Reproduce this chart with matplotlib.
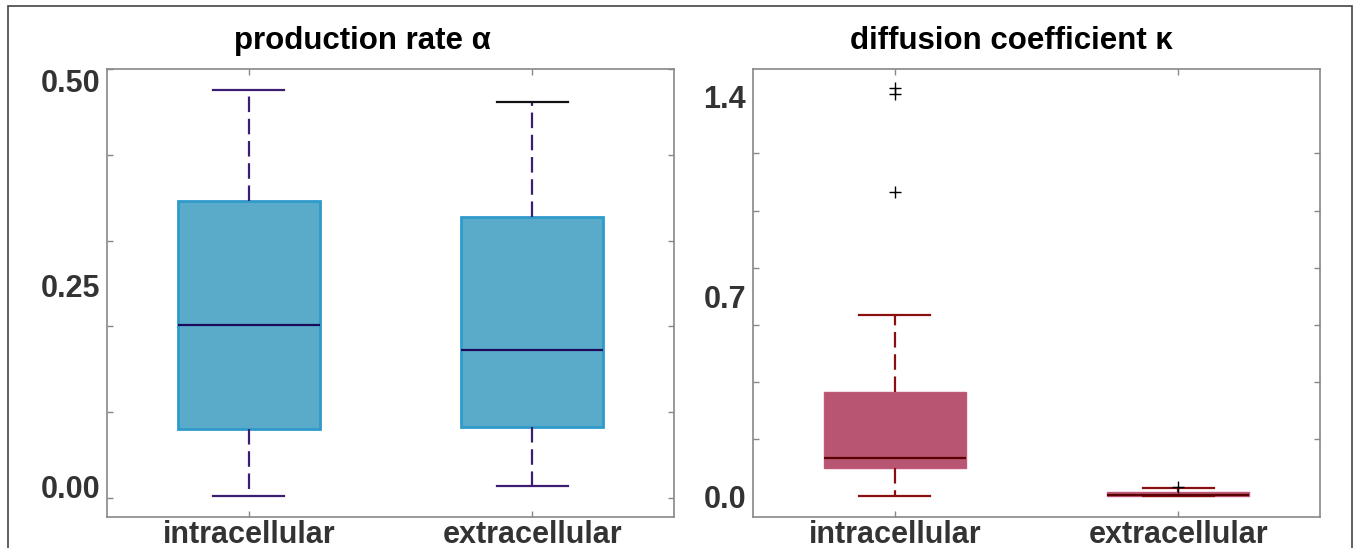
import matplotlib
matplotlib.use("Agg")
import matplotlib.pyplot as plt
from matplotlib.patches import Rectangle
import numpy as np

# box statistics
groups = ["intracellular", "extracellular"]

# production rate alpha
alpha_whislo = [0.002, 0.0135]
alpha_q1 = [0.080, 0.083]
alpha_med = [0.2016, 0.173]
alpha_q3 = [0.346, 0.328]
alpha_whishi = [0.476, 0.461]
alpha_fliers = [[], []]

# diffusion coefficient kappa
kappa_whislo = [0.0, 0.0]
kappa_q1 = [0.098, 0.001]
kappa_med = [0.135, 0.006]
kappa_q3 = [0.367, 0.015]
kappa_whishi = [0.633, 0.030]
kappa_fliers = [[1.427, 1.408, 1.064], [0.032]]

alpha_ticks = [0.0132, 0.248, 0.487]
alpha_ticklabels = ["0.00", "0.25", "0.50"]
kappa_ticks = [0.0, 0.7, 1.4]
kappa_ticklabels = ["0.0", "0.7", "1.4"]

FONT = ["Liberation Sans", "DejaVu Sans"]
plt.rcParams["font.family"] = FONT


def make_stats(lo, q1, med, q3, hi, fl):
    stats = []
    for i in range(len(groups)):
        stats.append(dict(whislo=lo[i], q1=q1[i], med=med[i], q3=q3[i],
                          whishi=hi[i], fliers=fl[i], label=groups[i]))
    return stats


def style_axes(ax, ylim, minor, ticks, labels):
    ax.set_xlim(0.5, 2.5)
    ax.set_ylim(*ylim)
    ax.set_yticks(ticks)
    ax.set_yticklabels(labels)
    ax.set_yticks(minor, minor=True)
    ax.tick_params(axis="y", which="major", length=0, pad=5,
                   labelsize=22, labelcolor="#333333")
    ax.tick_params(axis="y", which="minor", length=4, width=1,
                   color="#888888", direction="in", left=True, right=True)
    ax.tick_params(axis="x", which="major", length=4, width=1,
                   color="#888888", direction="in", top=True, bottom=True,
                   pad=2, labelsize=22, labelcolor="#333333")
    for lab in ax.get_yticklabels() + ax.get_xticklabels():
        lab.set_fontweight("bold")
    for sp in ax.spines.values():
        sp.set_color("#888888")
        sp.set_linewidth(1.2)


fig = plt.figure(figsize=(13.6, 5.48), dpi=100)
ax1 = fig.add_axes([107 / 1360, 1 - 517 / 548, 567 / 1360, 448 / 548])
ax2 = fig.add_axes([753 / 1360, 1 - 517 / 548, 567 / 1360, 448 / 548])

dash = (0, (7, 3))

b1 = ax1.bxp(make_stats(alpha_whislo, alpha_q1, alpha_med, alpha_q3, alpha_whishi, alpha_fliers),
             widths=0.5, capwidths=0.25, patch_artist=True, showfliers=True,
             boxprops=dict(facecolor="#5aabc9", edgecolor="#2f9bcb", linewidth=2),
             whiskerprops=dict(color="#3b1d72", linewidth=1.6, linestyle=dash),
             capprops=dict(color="#3b1d72", linewidth=1.6),
             medianprops=dict(color="#1c0b5c", linewidth=1.6),
             flierprops=dict(marker="+", markeredgecolor="black", markersize=8))
b1["caps"][3].set_color("#111111")
style_axes(ax1, (-0.0221, 0.5), np.arange(0, 0.51, 0.1), alpha_ticks, alpha_ticklabels)

b2 = ax2.bxp(make_stats(kappa_whislo, kappa_q1, kappa_med, kappa_q3, kappa_whishi, kappa_fliers),
             widths=0.5, capwidths=0.25, patch_artist=True, showfliers=True,
             boxprops=dict(facecolor="#b85573", edgecolor="#c05a78", linewidth=1),
             whiskerprops=dict(color="#8a1010", linewidth=1.6, linestyle=dash),
             capprops=dict(color="#8a1010", linewidth=1.6),
             medianprops=dict(color="#5a0000", linewidth=1.6),
             flierprops=dict(marker="+", markeredgecolor="black", markersize=8))
style_axes(ax2, (-0.0717, 1.495), np.arange(0, 1.41, 0.2), kappa_ticks, kappa_ticklabels)

fig.text(362 / 1360, 1 - 41 / 548, "production rate \u03b1", ha="center", va="center",
         fontsize=22.5, fontweight="bold", color="black")
fig.text(1011 / 1360, 1 - 41 / 548, "diffusion coefficient \u03ba", ha="center", va="center",
         fontsize=22.5, fontweight="bold", color="black")

fig.patches.append(Rectangle((8 / 1360, -0.1), 1344 / 1360, 1.1 - 6 / 548,
                             transform=fig.transFigure, fill=False,
                             edgecolor="#444444", linewidth=1.2))

fig.savefig("out.png", dpi=100)
